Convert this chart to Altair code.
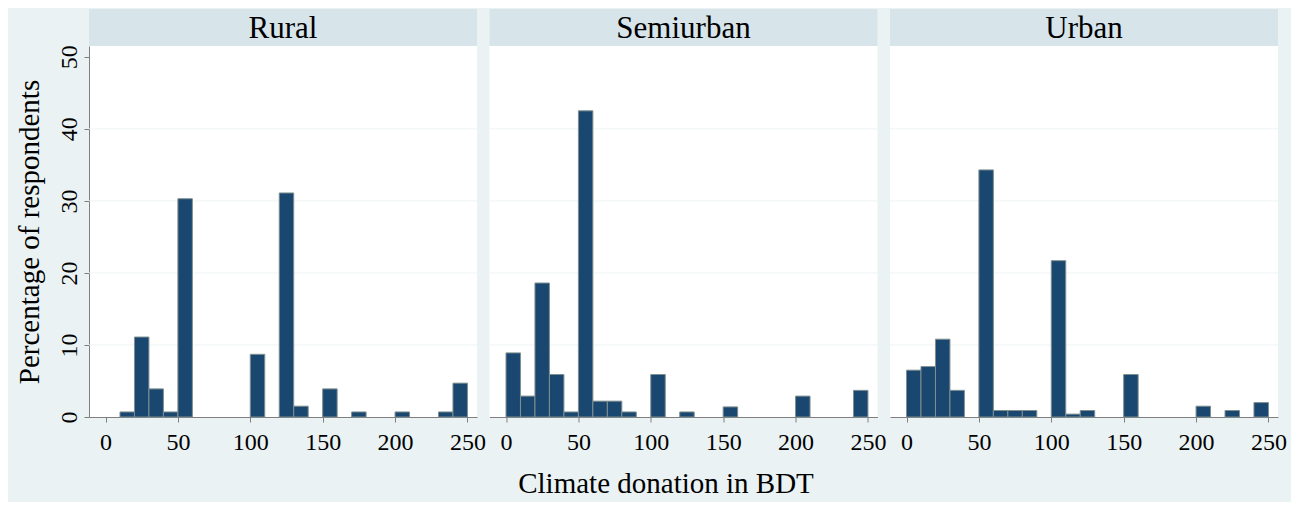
import altair as alt
import pandas as pd

# ---------------- data ----------------
BIN_WIDTH = 10
panels = ["Rural", "Semiurban", "Urban"]

rural_bins = [10, 20, 30, 40, 50, 100, 120, 130, 150, 170, 200, 230, 240]
rural_pct = [0.7, 11.1, 3.9, 0.7, 30.3, 8.7, 31.1, 1.5, 3.9, 0.7, 0.7, 0.7, 4.7]

semi_bins = [0, 10, 20, 30, 40, 50, 60, 70, 80, 100, 120, 150, 200, 240]
semi_pct = [8.9, 2.9, 18.6, 5.9, 0.7, 42.5, 2.2, 2.2, 0.7, 5.9, 0.7, 1.4, 2.9, 3.7]

urban_bins = [0, 10, 20, 30, 50, 60, 70, 80, 100, 110, 120, 150, 200, 220, 240]
urban_pct = [6.5, 7.0, 10.8, 3.7, 34.3, 0.9, 0.9, 0.9, 21.7, 0.4, 0.9, 5.9, 1.5, 0.9, 2.0]

x_ticks = [0, 50, 100, 150, 200, 250]
y_ticks = [0, 10, 20, 30, 40, 50]
grid_vals = [10, 20, 30, 40]

x_title = "Climate donation in BDT"
y_title = "Percentage of respondents"

# ---------------- style ----------------
FONT = "Liberation Serif"
BG = "#eaf2f3"
HDR = "#d7e5ea"
BAR = "#1a476f"
OUTLINE = "#7f8f90"
GRID = "#eef4f5"
AXIS = "#7f7f7f"

W = 388
H_HDR = 37
H_PLOT = 371

xscale = alt.Scale(domain=[-11.4, 256.6], nice=False, zero=False)
yscale = alt.Scale(domain=[0, 51.5], nice=False)


def make_plot(bins, pct, idx):
    df = pd.DataFrame({"bin_start": bins, "pct": pct})
    df["bin_end"] = df["bin_start"] + BIN_WIDTH

    xaxis_kw = dict(
        values=x_ticks, grid=False, domainColor=AXIS, tickColor=AXIS,
        tickSize=5, labelFont=FONT, labelFontSize=24, labelColor="#000",
        labelPadding=8, labelFlush=False, labelOverlap=False,
    )
    if idx == 1:
        xaxis = alt.Axis(title=x_title, titleFont=FONT, titleFontSize=29,
                         titleFontWeight="normal", titleColor="#000",
                         titlePadding=15, titleX=176, titleAlign="center",
                         **xaxis_kw)
    else:
        xaxis = alt.Axis(title=None, **xaxis_kw)

    if idx == 0:
        yaxis = alt.Axis(
            values=y_ticks, grid=False, domainColor=AXIS, tickColor=AXIS,
            tickSize=5, labelFont=FONT, labelFontSize=24, labelColor="#000",
            labelAngle=270, labelAlign="center", labelBaseline="alphabetic",
            labelPadding=7.5, title=y_title, titleFont=FONT, titleFontSize=29,
            titleFontWeight="normal", titleColor="#000", titlePadding=13,
        )
    else:
        yaxis = None

    grid = alt.Chart(pd.DataFrame({"g": grid_vals})).mark_rule(
        color=GRID, strokeWidth=1
    ).encode(y=alt.Y("g:Q", scale=yscale, axis=yaxis, title=y_title))

    bars = alt.Chart(df).mark_rect(
        fill=BAR, stroke=OUTLINE, strokeWidth=1
    ).encode(
        x=alt.X("bin_start:Q", scale=xscale, axis=xaxis),
        x2="bin_end:Q",
        y=alt.Y("pct:Q", scale=yscale, axis=yaxis, title=y_title),
        y2=alt.datum(0),
    )
    return alt.layer(grid, bars).properties(width=W, height=H_PLOT)


def make_header(name):
    return alt.Chart(pd.DataFrame({"label": [name]})).mark_text(
        font=FONT, fontSize=31, color="#000", baseline="middle", align="center"
    ).encode(
        x=alt.value(W / 2), y=alt.value(H_HDR / 2 + 1), text="label:N"
    ).properties(
        width=W, height=H_HDR,
        view=alt.ViewBackground(fill=HDR, strokeWidth=0),
    )


headers = [make_header(p) for p in panels]
plots = [
    make_plot(rural_bins, rural_pct, 0),
    make_plot(semi_bins, semi_pct, 1),
    make_plot(urban_bins, urban_pct, 2),
]

chart = alt.concat(
    *headers, *plots, columns=3, bounds="flush", align="each",
    spacing={"row": 0, "column": 12.5},
).properties(
    background=BG,
    padding={"left": 7, "top": 1, "right": 4, "bottom": 4},
).configure_view(fill="white", strokeWidth=0)

chart.save("out.html", embed_options={"renderer": "svg", "actions": False})
